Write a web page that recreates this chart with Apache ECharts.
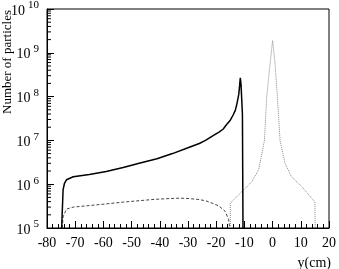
<!DOCTYPE html>
<html>
<head>
<meta charset="utf-8">
<script src="https://cdn.jsdelivr.net/npm/echarts@6/dist/echarts.min.js"></script>
<style>
  html, body { margin: 0; padding: 0; background: #fff; }
  #chart { width: 339px; height: 269px; }
</style>
</head>
<body>
<div id="chart"></div>
<script>
// solid curve
const solidX = [-74.8, -74.3, -73.8, -73.1, -70.7, -65, -59, -53, -47.3, -41, -35.5, -30, -26, -23.8, -20.8, -19, -17.5, -16.3, -15.0, -14, -13.2, -12.6, -12.0, -11.7, -11.45, -11.2, -10.7, -10.5];
const solidY = [1e5, 7.4e5, 1.05e6, 1.26e6, 1.48e6, 1.66e6, 1.95e6, 2.4e6, 3.0e6, 3.8e6, 5.0e6, 6.8e6, 8.5e6, 1.0e7, 1.32e7, 1.55e7, 1.82e7, 2.3e7, 2.9e7, 3.8e7, 4.9e7, 7.1e7, 1.12e8, 1.78e8, 2.7e8, 1.9e8, 4.0e7, 1e5];

// dashed curve
const dashX = [-74.6, -74.3, -73.1, -70.7, -65, -59, -53, -47.3, -42, -36.7, -33, -29.6, -26.5, -23.8, -21.5, -19.1, -16.8, -15.6, -15.2];
const dashY = [1e5, 1.8e5, 2.7e5, 3.0e5, 3.25e5, 3.55e5, 3.9e5, 4.2e5, 4.5e5, 4.7e5, 4.8e5, 4.7e5, 4.5e5, 4.2e5, 3.7e5, 3.2e5, 2.4e5, 1.55e5, 1e5];

// dotted curve
const dotX = [-15.0, -15.0, -13.8, -12, -10.3, -7.35, -5.0, -3.8, -2.9, -2.1, -0.9, 0, 0.87, 1.7, 2.64, 4.4, 6.7, 10.3, 13.8, 15.0, 15.1];
const dotY = [1e5, 3.7e5, 4.4e5, 5.8e5, 7.4e5, 1.15e6, 2.1e6, 5.0e6, 1.0e7, 9.8e7, 5.6e8, 1.9e9, 5.6e8, 9.8e7, 1.0e7, 3.0e6, 1.48e6, 8.9e5, 4.8e5, 4.0e5, 1e5];

const xMin = -80, xMax = 20, xStep = 10;
const yDecades = [5, 6, 7, 8, 9, 10];

const pairs = (xs, ys) => xs.map((x, i) => [x, ys[i]]);

// 2..9 x 10^n minor ticks for the log axis
const minorTicks = [];
yDecades.slice(0, -1).forEach(n => {
  for (let k = 2; k <= 9; k++) minorTicks.push([xMin, k * Math.pow(10, n)]);
});

const font = 'Liberation Serif';
const chart = echarts.init(document.getElementById('chart'));

chart.setOption({
  animation: false,
  grid: { left: 47, right: 8, top: 8, bottom: 41, show: true, borderColor: '#000', borderWidth: 1 },
  xAxis: {
    type: 'value',
    min: xMin, max: xMax, interval: xStep,
    axisLine: { onZero: false, lineStyle: { color: '#000', width: 1 } },
    axisTick: { inside: true, length: 7, lineStyle: { color: '#000' } },
    minorTick: { show: true, splitNumber: 5, length: 4, lineStyle: { color: '#000' } },
    splitLine: { show: false },
    axisLabel: { color: '#000', fontFamily: font, fontSize: 14, margin: 8 }
  },
  yAxis: {
    type: 'log', logBase: 10,
    min: Math.pow(10, yDecades[0]), max: Math.pow(10, yDecades[yDecades.length - 1]),
    axisLine: { show: true, onZero: false, lineStyle: { color: '#000', width: 1 } },
    axisTick: { inside: true, length: 7, lineStyle: { color: '#000' } },
    splitLine: { show: false },
    axisLabel: {
      margin: 8,
      formatter: v => '{b|10}{e|' + Math.round(Math.log10(v)) + '}',
      rich: {
        b: { fontFamily: font, fontSize: 14, color: '#000', verticalAlign: 'bottom', lineHeight: 18 },
        e: { fontFamily: font, fontSize: 11, color: '#000', verticalAlign: 'top', lineHeight: 18, padding: [0, 0, 0, 3] }
      }
    }
  },
  graphic: [
    {
      type: 'text', x: 8, y: 62, rotation: Math.PI / 2,
      style: { text: 'Number of particles', fontFamily: font, fontSize: 13, fill: '#000', align: 'center', verticalAlign: 'middle' }
    },
    {
      type: 'text', x: 331, y: 263,
      style: { text: 'y(cm)', fontFamily: font, fontSize: 14, fill: '#000', align: 'right', verticalAlign: 'middle' }
    }
  ],
  series: [
    {
      // log minor ticks on the left axis
      type: 'custom', silent: true, clip: false, z: 5,
      data: minorTicks,
      encode: { x: 0, y: 1 },
      renderItem: (params, api) => {
        const p = api.coord([api.value(0), api.value(1)]);
        return { type: 'line', shape: { x1: p[0], y1: p[1], x2: p[0] + 4, y2: p[1] }, style: { stroke: '#000', lineWidth: 1 } };
      }
    },
    {
      type: 'line', data: pairs(dashX, dashY), showSymbol: false,
      lineStyle: { color: '#444', width: 1, type: [3, 2] }
    },
    {
      type: 'line', data: pairs(dotX, dotY), showSymbol: false,
      lineStyle: { color: '#888', width: 1, type: [1, 1] }
    },
    {
      type: 'line', data: pairs(solidX, solidY), showSymbol: false,
      lineStyle: { color: '#000', width: 1.5 }
    }
  ]
});
</script>
</body>
</html>
